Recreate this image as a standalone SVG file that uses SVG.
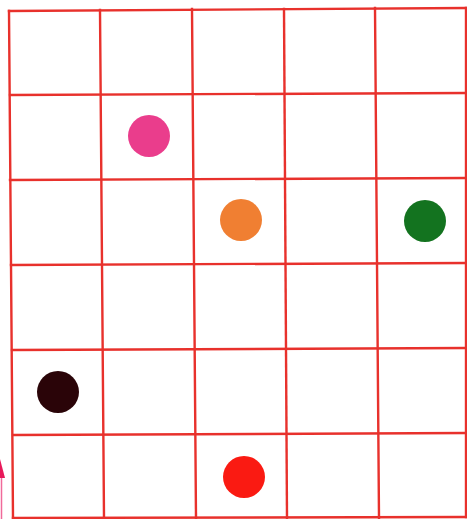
<svg xmlns="http://www.w3.org/2000/svg" width="467" height="519" viewBox="0 0 467 519">
<style>
.g{stroke:#e8312c;stroke-width:2.4;fill:none;stroke-linecap:square}
</style>
<rect width="467" height="519" fill="#ffffff"/>
<g id="grid">
<line class="g" x1="9" y1="11" x2="466" y2="8"/>
<line class="g" x1="10" y1="95" x2="466" y2="93"/>
<line class="g" x1="10" y1="180" x2="466" y2="178"/>
<line class="g" x1="11" y1="265" x2="466" y2="263"/>
<line class="g" x1="12" y1="350" x2="466" y2="348"/>
<line class="g" x1="13" y1="435" x2="466" y2="433"/>
<line class="g" x1="13" y1="518" x2="466" y2="517"/>
<line class="g" x1="9" y1="11" x2="13" y2="518"/>
<line class="g" x1="100" y1="10" x2="104" y2="518"/>
<line class="g" x1="192" y1="9" x2="196" y2="518"/>
<line class="g" x1="284" y1="9" x2="287" y2="518"/>
<line class="g" x1="375" y1="8" x2="379" y2="518"/>
<line class="g" x1="466" y1="8" x2="466" y2="517"/>
</g>
<g id="marker-left">
<polygon points="0,459 5,478 0,478" fill="#e8195a"/>
<line x1="1.5" y1="478" x2="1.5" y2="519" stroke="#f06a9a" stroke-width="1.5"/>
</g>
<g id="dot-pink"><circle cx="149" cy="136" r="21" fill="#ea3d8c"/></g>
<g id="dot-orange"><circle cx="241" cy="220" r="21" fill="#f07f32"/></g>
<g id="dot-green"><circle cx="425" cy="221" r="21" fill="#13731f"/></g>
<g id="dot-black"><circle cx="58" cy="392" r="21" fill="#2a0408"/></g>
<g id="dot-red"><circle cx="244" cy="477" r="21" fill="#fa1a12"/></g>
</svg>
